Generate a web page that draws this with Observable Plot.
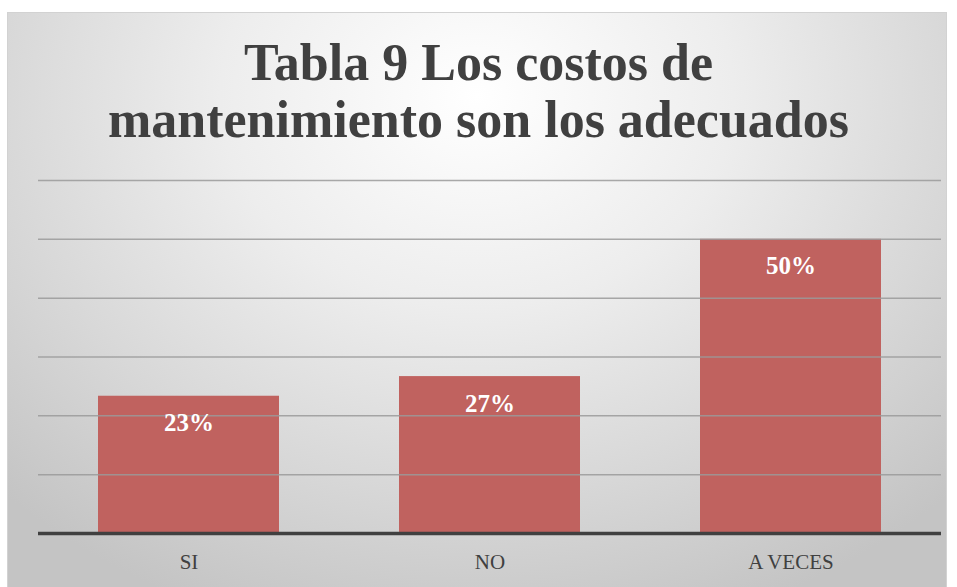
<!DOCTYPE html>
<html>
<head>
<meta charset="utf-8">
<script src="https://cdn.jsdelivr.net/npm/d3@7"></script>
<script src="https://cdn.jsdelivr.net/npm/@observablehq/plot@0.6"></script>
<style>
  html, body { margin: 0; padding: 0; background: #ffffff; }
  #wrap { position: relative; width: 957px; height: 587px; overflow: hidden; background: #ffffff; }
  #frame {
    position: absolute; left: 7px; top: 12px; width: 940px; height: 590px;
    border: 1px solid #d2d2d2; box-sizing: border-box;
    background: radial-gradient(ellipse 72% 95% at 50% 14%, #ffffff 0%, #ededed 38%, #d7d7d7 72%, #c4c4c4 100%);
  }
  #title {
    position: absolute; left: 0; top: 34px; width: 957px; text-align: center;
    font-family: "Liberation Serif", serif; font-weight: bold; font-size: 52px;
    line-height: 57px; color: #404040;
  }
  #chart { position: absolute; left: 0; top: 160px; }
</style>
</head>
<body>
<div id="wrap">
  <div id="frame"></div>
  <div id="title">Tabla 9 Los costos de<br>mantenimiento son los adecuados</div>
  <div id="chart"></div>
</div>
<script>
const categories = ["SI", "NO", "A VECES"];
const values = [0.2333, 0.2667, 0.5];
const valueLabels = ["23%", "27%", "50%"];
const gridTicks = [0.1, 0.2, 0.3, 0.4, 0.5, 0.6];

const data = categories.map((c, i) => ({cat: c, value: values[i], label: valueLabels[i]}));

const chart = Plot.plot({
  width: 957,
  height: 427,
  marginLeft: 38,
  marginRight: 16,
  marginTop: 20,
  marginBottom: 54,
  style: {background: "transparent", fontFamily: "'Liberation Serif', serif", color: "#404040"},
  x: {domain: categories, paddingInner: 0.4, paddingOuter: 0.2, axis: null, label: null},
  y: {domain: [0, 0.6], axis: null},
  marks: [
    Plot.barY(data, {x: "cat", y: "value", fill: "#c0625f"}),
    Plot.ruleY(gridTicks, {stroke: "#9a9a9a", strokeWidth: 1.5, strokeOpacity: 0.85}),
    Plot.ruleY([0], {stroke: "#404040", strokeWidth: 3.5}),
    Plot.text(data, {x: "cat", y: "value", text: "label", dy: 27, fill: "white", fontWeight: "bold", fontSize: 25}),
    Plot.axisX({tickSize: 0, tickPadding: 21, fontSize: 21, fill: "#404040", label: null})
  ]
});
document.getElementById("chart").appendChild(chart);
</script>
</body>
</html>
